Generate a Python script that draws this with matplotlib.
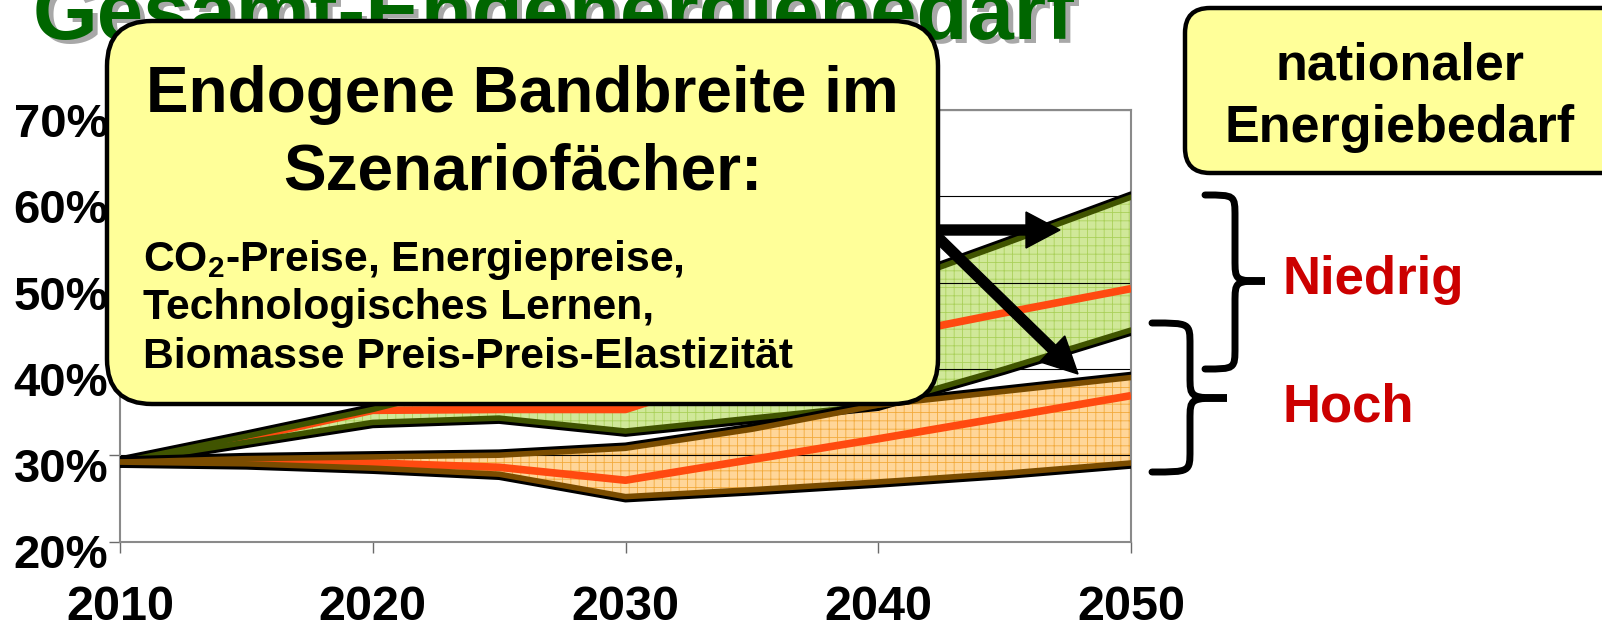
import matplotlib
matplotlib.use('Agg')
import matplotlib.pyplot as plt
import matplotlib.patheffects as pe
from matplotlib.patches import FancyBboxPatch, FancyArrow, PathPatch
from matplotlib.path import Path
from matplotlib.transforms import IdentityTransform, ScaledTranslation

# ---------------- data ----------------
years = [2010, 2015, 2020, 2025, 2030, 2035, 2040, 2045, 2050]
niedrig_max = [29.2, 32.2, 35.3, 39.0, 42.5, 46.0, 49.2, 54.5, 59.9]
niedrig_mid = [29.2, 32.0, 35.2, 35.3, 35.3, 40.0, 43.6, 46.5, 49.3]
niedrig_min = [29.2, 31.5, 33.8, 34.3, 32.8, 34.3, 35.8, 40.0, 44.5]
hoch_max = [29.2, 29.6, 29.8, 30.0, 30.8, 33.0, 35.8, 37.4, 39.0]
hoch_mid = [29.2, 29.3, 29.1, 28.6, 27.1, 29.5, 31.9, 34.4, 36.9]
hoch_min = [29.2, 29.0, 28.5, 27.8, 25.2, 26.0, 26.9, 27.9, 29.1]
y_ticks = [20, 30, 40, 50, 60, 70]
y_tick_labels = ['20%', '30%', '40%', '50%', '60%', '70%']
x_ticks = [2010, 2020, 2030, 2040, 2050]
x_tick_labels = ['2010', '2020', '2030', '2040', '2050']

title = 'Gesamt-Endenergiebedarf'
box_title = ['Endogene Bandbreite im', 'Szenariofächer:']
box_lines = [r'CO$_\mathbf{2}$-Preise, Energiepreise,',
             'Technologisches Lernen,',
             'Biomasse Preis-Preis-Elastizität']
right_box = ['nationaler', 'Energiebedarf']
label_low = 'Niedrig'
label_high = 'Hoch'

# ---------------- style ----------------
plt.rcParams['font.family'] = ['Liberation Sans', 'DejaVu Sans']
plt.rcParams['font.weight'] = 'bold'
plt.rcParams['mathtext.fontset'] = 'custom'
plt.rcParams['mathtext.rm'] = 'Liberation Sans:bold'
plt.rcParams['mathtext.bf'] = 'Liberation Sans:bold'
plt.rcParams['mathtext.it'] = 'Liberation Sans:bold'
plt.rcParams['hatch.linewidth'] = 0.6

W, H = 1602, 627
fig = plt.figure(figsize=(W / 100, H / 100), dpi=100)
fig.patch.set_facecolor('white')

ax_l, ax_r, ax_t, ax_b = 120, 1131, 110, 541.5
ax = fig.add_axes([ax_l / W, (H - ax_b) / H, (ax_r - ax_l) / W, (ax_b - ax_t) / H])

# bands
ax.fill_between(years, hoch_min, hoch_max, facecolor='#ffd699', edgecolor='#f2aa3c',
                hatch='++', linewidth=0, zorder=1)
ax.fill_between(years, niedrig_min, niedrig_max, facecolor='#b4da5a', edgecolor='#93c234',
                hatch='++', linewidth=0, alpha=0.62, zorder=1.1)

# mid lines
ax.plot(years, niedrig_mid, color='#ff4a10', lw=5.5, zorder=3, solid_capstyle='butt')
ax.plot(years, hoch_mid, color='#ff4a10', lw=5.5, zorder=3, solid_capstyle='butt')


def boundary(vals, color, up):
    off = 2.2 if up else -2.2
    ax.plot(years, vals, color=color, lw=4.0, zorder=4, solid_capstyle='round',
            path_effects=[pe.SimpleLineShadow(offset=(0, off), shadow_color='black', alpha=1),
                          pe.Normal()])


boundary(niedrig_max, '#405400', True)
boundary(niedrig_min, '#405400', False)
boundary(hoch_max, '#7a4c00', True)
boundary(hoch_min, '#7a4c00', False)

ax.set_xlim(2010, 2050)
ax.set_ylim(20, 70)
ax.set_xticks(x_ticks)
ax.set_xticklabels(x_tick_labels)
ax.set_yticks(y_ticks)
ax.set_yticklabels(y_tick_labels)
ax.set_axisbelow('line')
ax.yaxis.grid(True, color='black', lw=0.8)
for s in ax.spines.values():
    s.set_color('#8a8a8a')
    s.set_linewidth(1.5)
ax.tick_params(axis='both', direction='out', length=8, width=1, color='#6a6a6a')
ax.tick_params(axis='x', pad=23, labelsize=35)
ax.tick_params(axis='y', pad=0.5, labelsize=34)
off = ScaledTranslation(0, -10 / 100, fig.dpi_scale_trans)
for lab in ax.get_yticklabels():
    lab.set_transform(lab.get_transform() + off)
    lab.set_fontweight('bold')
for lab in ax.get_xticklabels():
    lab.set_fontweight('bold')


def px(x, y_top):
    return x / W, (H - y_top) / H


# title with shadow
tx, ty = px(33, 39)
fig.text(tx + 5 / W, ty - 4 / H, title, fontsize=60, color='#a8a8a8', ha='left',
         va='baseline', fontweight='bold', zorder=3)
fig.text(tx, ty, title, fontsize=60, color='#006600', ha='left', va='baseline',
         fontweight='bold', zorder=3.1)

ident = IdentityTransform()

# arrows (below the callout box)
fig.add_artist(FancyArrow(920, H - 230, 1060 - 920, 0, width=10, head_width=36,
                          head_length=34, length_includes_head=True, color='black',
                          transform=ident, zorder=4))
fig.add_artist(FancyArrow(920, H - 220, 1078 - 920, -(374 - 220), width=10, head_width=36,
                          head_length=36, length_includes_head=True, color='black',
                          transform=ident, zorder=4))

# main callout box
fig.add_artist(FancyBboxPatch((107, H - 404), 938 - 107, 404 - 21,
                              boxstyle='round,pad=0,rounding_size=45',
                              fc='#ffff99', ec='black', lw=3.2, transform=ident, zorder=5))
cx = (107 + 938) / 2
for txt, yb in zip(box_title, [112, 190]):
    fig.text(*px(cx, yb), txt, fontsize=46, ha='center', va='baseline',
             fontweight='bold', zorder=6)
for txt, yb in zip(box_lines, [271, 319, 368]):
    fig.text(*px(143, yb), txt, fontsize=30.7, ha='left', va='baseline',
             fontweight='bold', zorder=6)

# right box
fig.add_artist(FancyBboxPatch((1185, H - 173), 500, 165,
                              boxstyle='round,pad=0,rounding_size=25',
                              fc='#ffff99', ec='black', lw=3.2, transform=ident, zorder=5))
for txt, yb in zip(right_box, [80, 142]):
    fig.text(*px(1400, yb), txt, fontsize=37.5, ha='center', va='baseline',
             fontweight='bold', zorder=6)


# braces
def brace(xl, xm, xt, yt, ymid, yb, r=22):
    Y = lambda v: H - v
    verts = [(xl, Y(yt)), (xm, Y(yt)), (xm, Y(yt)), (xm, Y(yt + r)),
             (xm, Y(ymid - r)),
             (xm, Y(ymid)), (xm, Y(ymid)), (xt, Y(ymid)),
             (xm, Y(ymid)), (xm, Y(ymid)), (xm, Y(ymid + r)),
             (xm, Y(yb - r)),
             (xm, Y(yb)), (xm, Y(yb)), (xl, Y(yb))]
    codes = [Path.MOVETO, Path.CURVE4, Path.CURVE4, Path.CURVE4,
             Path.LINETO,
             Path.CURVE4, Path.CURVE4, Path.CURVE4,
             Path.CURVE4, Path.CURVE4, Path.CURVE4,
             Path.LINETO,
             Path.CURVE4, Path.CURVE4, Path.CURVE4]
    fig.add_artist(PathPatch(Path(verts, codes), fill=False, lw=5, ec='black',
                             capstyle='round', transform=ident, zorder=5))


brace(1205, 1235, 1265, 195, 281, 369)
brace(1152, 1190, 1227, 323, 398, 472)

fig.text(*px(1283, 294), label_low, fontsize=38, color='#cc0000', ha='left',
         va='baseline', fontweight='bold')
fig.text(*px(1283, 422), label_high, fontsize=38, color='#cc0000', ha='left',
         va='baseline', fontweight='bold')

fig.savefig('out.png', dpi=100)
